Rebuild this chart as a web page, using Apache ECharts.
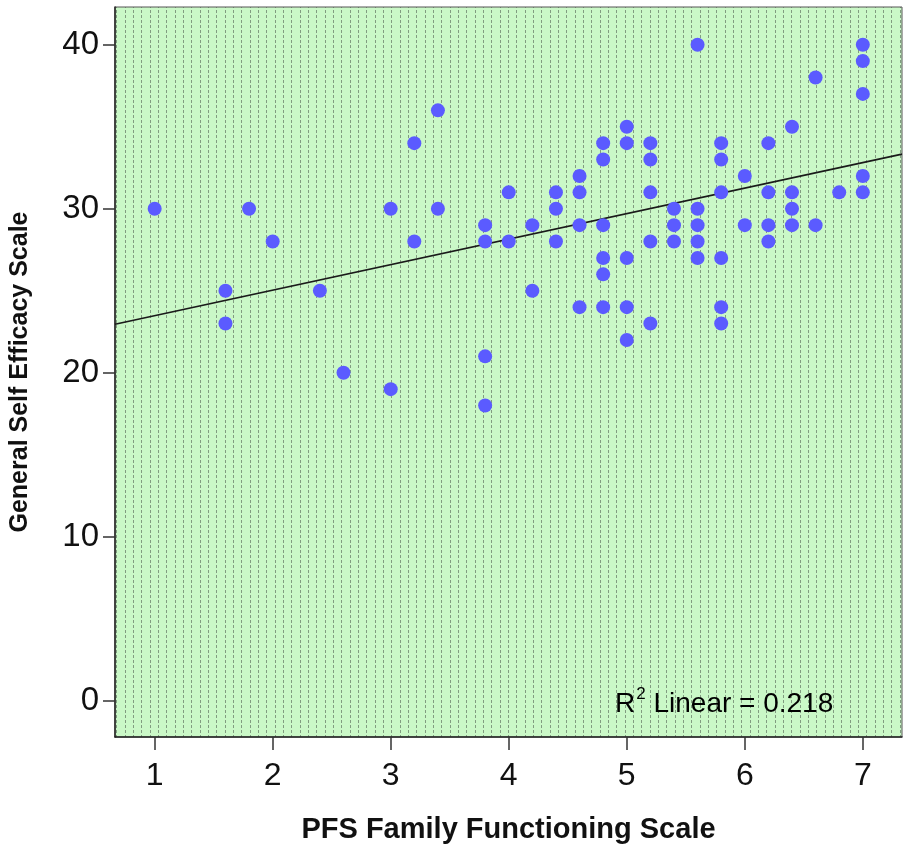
<!DOCTYPE html>
<html>
<head>
<meta charset="utf-8">
<script src="https://cdn.jsdelivr.net/npm/echarts@6/dist/echarts.min.js"></script>
<style>
  html, body { margin: 0; padding: 0; background: #fff; }
  #chart { width: 906px; height: 852px; }
</style>
</head>
<body>
<div id="chart"></div>
<script>
// PFS score (x) and General Self Efficacy score (y), one entry per visible dot
const pfs = [
  1.0,
  1.6, 1.6,
  1.8,
  2.0,
  2.4,
  2.6,
  3.0, 3.0,
  3.2, 3.2,
  3.4, 3.4,
  3.8, 3.8, 3.8, 3.8,
  4.0, 4.0,
  4.2, 4.2,
  4.4, 4.4, 4.4,
  4.6, 4.6, 4.6, 4.6,
  4.8, 4.8, 4.8, 4.8, 4.8, 4.8,
  5.0, 5.0, 5.0, 5.0, 5.0,
  5.2, 5.2, 5.2, 5.2, 5.2,
  5.4, 5.4, 5.4,
  5.6, 5.6, 5.6, 5.6, 5.6,
  5.8, 5.8, 5.8, 5.8, 5.8, 5.8,
  6.0, 6.0,
  6.2, 6.2, 6.2, 6.2,
  6.4, 6.4, 6.4, 6.4,
  6.6, 6.6,
  6.8,
  7.0, 7.0, 7.0, 7.0, 7.0
]
const gse = [
  30,
  25, 23,
  30,
  28,
  25,
  20,
  30, 19,
  34, 28,
  36, 30,
  29, 28, 21, 18,
  31, 28,
  29, 25,
  31, 30, 28,
  32, 31, 29, 24,
  34, 33, 29, 27, 26, 24,
  35, 34, 27, 24, 22,
  34, 33, 31, 28, 23,
  30, 29, 28,
  40, 30, 29, 28, 27,
  34, 33, 31, 27, 24, 23,
  32, 29,
  34, 31, 29, 28,
  35, 31, 30, 29,
  38, 29,
  31,
  40, 39, 37, 32, 31
]
const xTicks = [1, 2, 3, 4, 5, 6, 7]
const yTicks = [0, 10, 20, 30, 40]
const xRange = [0.664, 7.332]
const yRange = [-2.21, 42.3]
// fit line (the fit includes overlapping cases)
const fitX = [0.664, 7.332]
const fitY = [22.96, 33.33]
const r2Label = '0.218'

const points = pfs.map((x, i) => [x, gse[i]])
const fitLine = fitX.map((x, i) => [x, fitY[i]])

// SPSS-style dotted green fill
const tile = document.createElement('canvas')
tile.width = 25; tile.height = 5
const tc = tile.getContext('2d')
tc.fillStyle = '#caf8c7'
tc.fillRect(0, 0, 25, 5)
tc.fillStyle = 'rgba(80,95,80,0.6)'
for (const lx of [0, 8, 16]) tc.fillRect(lx, 0, 1, 3)

const FONT = '"Liberation Sans", Arial, sans-serif'
const chart = echarts.init(document.getElementById('chart'), null, { renderer: 'canvas' })

chart.setOption({
  backgroundColor: '#ffffff',
  animation: false,
  grid: {
    show: true,
    left: 113, right: 4, top: 7, bottom: 115,
    backgroundColor: { image: tile, repeat: 'repeat' },
    borderColor: '#555', borderWidth: 1,
  },
  xAxis: {
    type: 'value', min: xRange[0], max: xRange[1],
    name: 'PFS Family Functioning Scale',
    nameLocation: 'middle', nameGap: 78,
    nameTextStyle: { fontFamily: FONT, fontSize: 29, fontWeight: 'bold', color: '#111' },
    axisLine: { show: true, onZero: false, lineStyle: { color: '#222', width: 1.5 } },
    axisTick: { show: true, customValues: xTicks, length: 13, lineStyle: { color: '#333', width: 1.5 } },
    axisLabel: { customValues: xTicks, margin: 23, fontFamily: FONT, fontSize: 32, color: '#111' },
    splitLine: { show: false },
  },
  yAxis: {
    type: 'value', min: yRange[0], max: yRange[1],
    name: 'General Self Efficacy Scale',
    nameLocation: 'middle', nameGap: 82,
    nameTextStyle: { fontFamily: FONT, fontSize: 25, fontWeight: 'bold', color: '#111' },
    axisLine: { show: true, onZero: false, lineStyle: { color: '#222', width: 1.5 } },
    axisTick: { show: true, customValues: yTicks, length: 12, lineStyle: { color: '#333', width: 1.5 } },
    axisLabel: { customValues: yTicks, margin: 16, fontFamily: FONT, fontSize: 33, color: '#111' },
    splitLine: { show: false },
  },
  series: [
    {
      type: 'line', name: 'Fit',
      data: fitLine,
      symbol: 'none',
      lineStyle: { color: '#1a1a1a', width: 1.6 },
      z: 3,
    },
    {
      type: 'scatter', name: 'Cases',
      data: points,
      symbolSize: 14,
      itemStyle: { color: '#5b5bff', opacity: 1 },
      z: 4,
    },
  ],
  graphic: [
    {
      type: 'text', left: 615, top: 686, z: 10,
      style: {
        text: '{r|R}{s|2}{r| Linear = ' + r2Label + '}',
        rich: {
          r: { fontFamily: FONT, fontSize: 28, color: '#000', lineHeight: 32, verticalAlign: 'bottom' },
          s: { fontFamily: FONT, fontSize: 17, color: '#000', lineHeight: 32, verticalAlign: 'top', padding: [0, 0, 13, 1] },
        },
      },
    },
  ],
})
</script>
</body>
</html>
